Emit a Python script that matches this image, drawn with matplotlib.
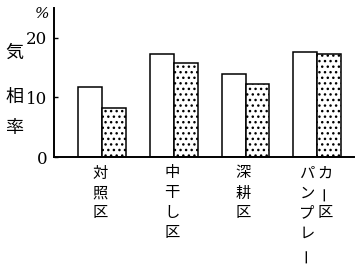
import matplotlib.pyplot as plt

plt.rcParams['font.family'] = ['Noto Sans CJK JP', 'DejaVu Sans']

# 気相率 (%) per plot: white bar and dotted bar
plots = ["対照区", "中干し区", "深耕区", "パンプレーカー区"]
white_vals = [11.8, 17.2, 14.0, 17.7]
dotted_vals = [8.3, 15.7, 12.2, 17.2]
yticks = [0, 10, 20]

W, H = 361, 267
fig = plt.figure(figsize=(W / 100, H / 100), dpi=100)
ax = fig.add_axes([54 / W, 110 / H, 300 / W, 149 / H])

bw = 0.333
xs = list(range(len(plots)))
ax.bar([x - bw / 2 for x in xs], white_vals, width=bw, color='white',
       edgecolor='black', linewidth=1.1)
ax.bar([x + bw / 2 for x in xs], dotted_vals, width=bw, color='white',
       edgecolor='black', linewidth=1.1, hatch='...')

ax.set_xlim(-0.667, 3.51)
ax.set_ylim(0, 25)
ax.set_xticks([])
ax.set_yticks(yticks)
ax.set_yticklabels([str(t) for t in yticks], family='DejaVu Serif', fontsize=12)
ax.tick_params(axis='y', direction='in', length=3, width=1, pad=5)
for s in ['top', 'right']:
    ax.spines[s].set_visible(False)
ax.spines['left'].set_linewidth(1.4)
ax.spines['bottom'].set_linewidth(1.4)

# y label, written vertically
fig.text(42 / W, 1 - 14 / H, '%', ha='center', va='center', fontsize=11,
         style='italic', family='DejaVu Serif')
for ch, py in zip("気相率", [53, 97, 128]):
    fig.text(14 / W, 1 - py / H, ch, ha='center', va='center', fontsize=13)

# category labels, written vertically under each group
rows = [173, 193, 213, 233, 255]


def vtext(text, x):
    for ch, py in zip(text, rows):
        rot = 90 if ch == 'ー' else 0
        fig.text(x / W, 1 - py / H, ch, ha='center', va='center',
                 fontsize=11, rotation=rot)


vtext(plots[0], 100)
vtext(plots[1], 172)
vtext(plots[2], 243)
# last label is split into two columns
vtext(plots[3][:5], 307)
vtext(plots[3][5:], 325)

fig.savefig('out.png', dpi=100)
